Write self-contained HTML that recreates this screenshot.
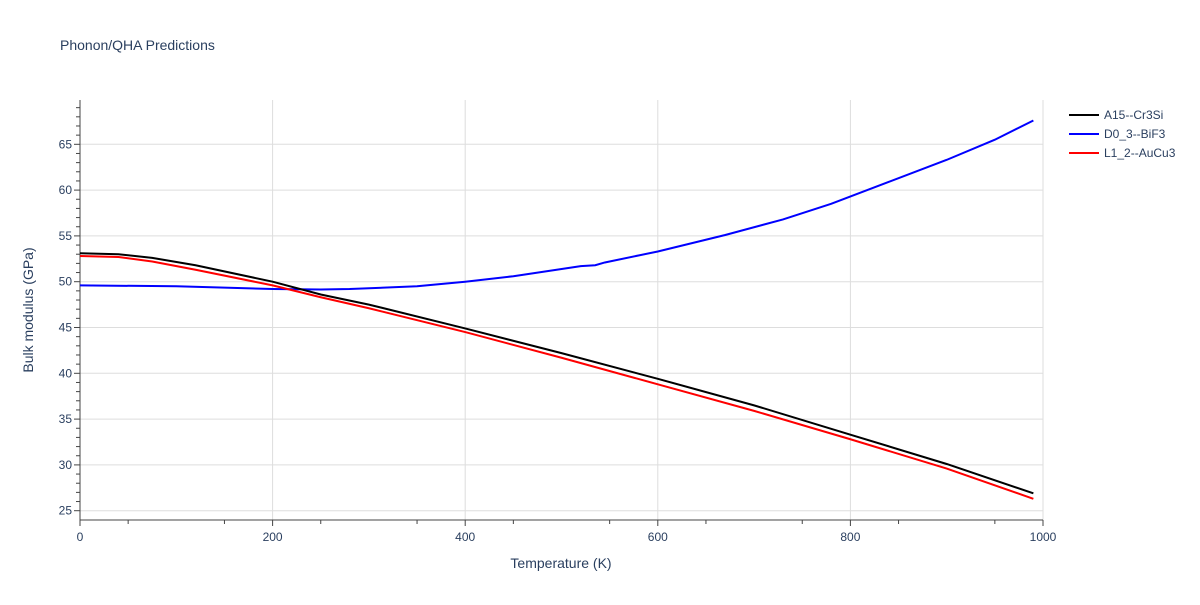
<!DOCTYPE html>
<html><head><meta charset="utf-8"><style>
body{margin:0;background:#fff;font-family:"Liberation Sans",sans-serif;}
svg text{font-family:"Liberation Sans",sans-serif;fill:#2a3f5f;}
</style></head><body>
<svg id="chart" width="1200" height="600" xmlns="http://www.w3.org/2000/svg">
<text x="60" y="50" font-size="14">Phonon/QHA Predictions</text>
<g id="grid"></g><g id="axes"></g><g id="series"></g>
<text x="561" y="568" font-size="14" text-anchor="middle">Temperature (K)</text>
<text transform="translate(33,310) rotate(-90)" font-size="14" text-anchor="middle">Bulk modulus (GPa)</text>
<g id="legend"></g>
</svg>
<script>
const xTicks=[0,200,400,600,800,1000];
const yTicks=[25,30,35,40,45,50,55,60,65];
const seriesNames=["A15--Cr3Si","D0_3--BiF3","L1_2--AuCu3"];
const seriesColors=["#000000","#0000ff","#ff0000"];
const a15T=[0,40,75,120,200,250,300,400,500,600,700,800,900,990];
const a15V=[53.1,53.0,52.6,51.8,50.0,48.6,47.5,44.9,42.2,39.4,36.5,33.3,30.1,26.9];
const l12T=[0,40,75,120,200,250,300,400,500,600,700,800,900,990];
const l12V=[52.8,52.7,52.2,51.3,49.6,48.3,47.1,44.5,41.7,38.8,35.9,32.8,29.6,26.3];
const d03T=[0,100,200,250,280,350,400,450,520,535,545,600,670,730,780,840,900,950,990];
const d03V=[49.6,49.5,49.2,49.15,49.2,49.5,50.0,50.6,51.7,51.8,52.1,53.3,55.1,56.8,58.5,60.9,63.3,65.5,67.6];
const NS="http://www.w3.org/2000/svg";
const X0=80,X1=1043,YB=520,YT=100;
const xs=v=>X0+(v/1000)*(X1-X0);
const ys=v=>510.7-(v-25)*9.16;
function mk(tag,attrs,parent){const e=document.createElementNS(NS,tag);for(const k in attrs)e.setAttribute(k,attrs[k]);parent.appendChild(e);return e;}
const grid=document.getElementById('grid'),axes=document.getElementById('axes'),ser=document.getElementById('series'),leg=document.getElementById('legend');
xTicks.forEach(t=>{if(t>0){const l=mk('line',{x1:xs(t),x2:xs(t),y1:YT,y2:YB,stroke:'#ddd'},grid);

}
const tx=mk('text',{x:xs(t),y:541,'font-size':12,'text-anchor':'middle'},axes);tx.textContent=t;

});
for(let t=50;t<1000;t+=100){mk('line',{x1:xs(t),x2:xs(t),y1:YB,y2:YB+4,stroke:'#444'},axes);}
for(let t=0;t<=1000;t+=200){mk('line',{x1:xs(t),x2:xs(t),y1:YB,y2:YB+6,stroke:'#444'},axes);}
yTicks.forEach(t=>{const l=mk('line',{x1:X0,x2:X1,y1:ys(t),y2:ys(t),stroke:'#ddd'},grid);


const tx=mk('text',{x:72,y:ys(t)+4,'font-size':12,'text-anchor':'end'},axes);tx.textContent=t;

});
for(let v=25;v<=69;v++){mk('line',{x1:X0-(v%5===0?6:4),x2:X0,y1:ys(v),y2:ys(v),stroke:'#444'},axes);}
const ax=mk('line',{x1:X0,x2:X0,y1:YT,y2:YB,stroke:'#444'},axes);


const bx=mk('line',{x1:X0,x2:X1,y1:YB,y2:YB,stroke:'#444'},axes);


const data=[[a15T,a15V],[d03T,d03V],[l12T,l12V]];
const order=[1,0,2];
order.forEach(i=>{const [T,V]=data[i];
const p=mk('polyline',{points:T.map((t,j)=>xs(t)+','+ys(V[j])).join(' '),fill:'none',stroke:seriesColors[i],'stroke-width':2},ser);

});
seriesNames.forEach((n,i)=>{const y=115+i*19;
const g=mk('g',{},leg);


mk('line',{x1:1069,x2:1099,y1:y,y2:y,stroke:seriesColors[i],'stroke-width':2},g);
const t=mk('text',{x:1104,y:y+4,'font-size':12},g);t.textContent=n;});
</script>
</body></html>
